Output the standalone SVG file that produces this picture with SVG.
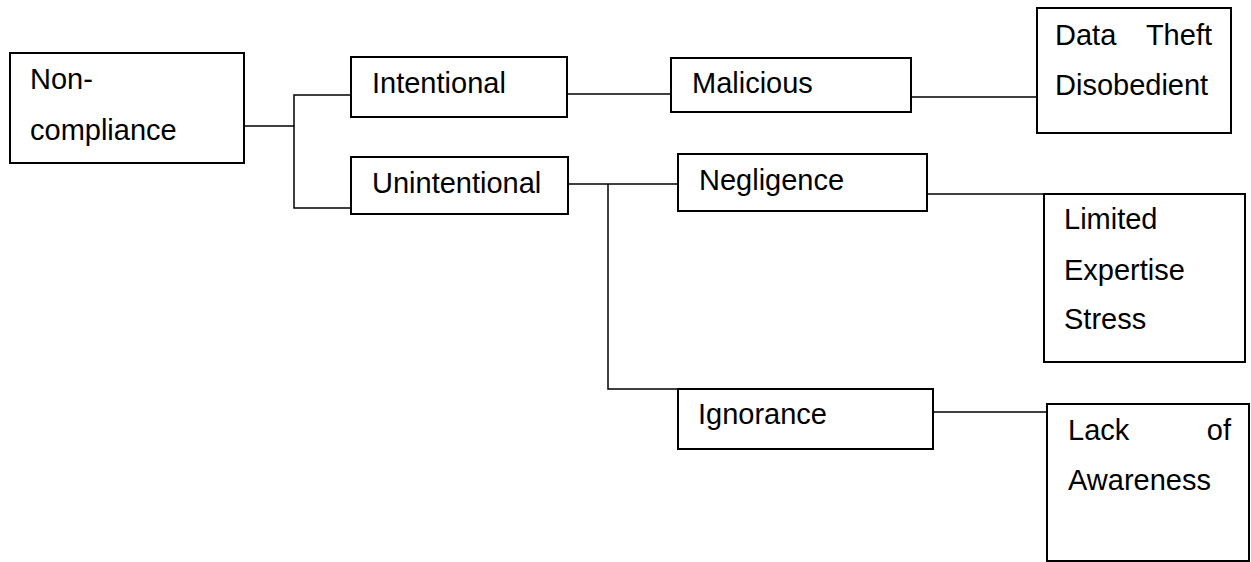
<svg xmlns="http://www.w3.org/2000/svg" width="1251" height="562" viewBox="0 0 1251 562">
  <style>
    .box { fill: #ffffff; stroke: #000000; stroke-width: 2; }
    .wire { fill: none; stroke: #000000; stroke-width: 1.5; }
    .label { font-family: "Liberation Sans", Arial, sans-serif; font-size: 29px; fill: #000000; }
    .end { text-anchor: end; }
  </style>
  <rect width="1251" height="562" fill="#ffffff"/>

  <g id="connectors">
    <polyline class="wire" points="244,126 294,126"/>
    <polyline class="wire" points="351,95 294,95 294,208 351,208"/>
    <polyline class="wire" points="567,94 671,94"/>
    <polyline class="wire" points="911,97 1037,97"/>
    <polyline class="wire" points="568,184 678,184"/>
    <polyline class="wire" points="608,184 608,389 678,389"/>
    <polyline class="wire" points="927,194 1044,194"/>
    <polyline class="wire" points="933,412 1047,412"/>
  </g>

  <g id="non-compliance">
    <rect class="box" x="10" y="53" width="234" height="110"/>
    <text class="label" x="30" y="89">Non-</text>
    <text class="label" x="30" y="140">compliance</text>
  </g>

  <g id="intentional">
    <rect class="box" x="351" y="57" width="216" height="60"/>
    <text class="label" x="372" y="93">Intentional</text>
  </g>

  <g id="unintentional">
    <rect class="box" x="351" y="157" width="217" height="57"/>
    <text class="label" x="372" y="193">Unintentional</text>
  </g>

  <g id="malicious">
    <rect class="box" x="671" y="58" width="240" height="54"/>
    <text class="label" x="692" y="93">Malicious</text>
  </g>

  <g id="data-theft">
    <rect class="box" x="1037" y="8" width="194" height="125"/>
    <text class="label" x="1055" y="45">Data</text>
    <text class="label end" x="1212" y="45">Theft</text>
    <text class="label" x="1055" y="95">Disobedient</text>
  </g>

  <g id="negligence">
    <rect class="box" x="678" y="154" width="249" height="57"/>
    <text class="label" x="699" y="190">Negligence</text>
  </g>

  <g id="limited-expertise">
    <rect class="box" x="1044" y="194" width="201" height="168"/>
    <text class="label" x="1064" y="229">Limited</text>
    <text class="label" x="1064" y="280">Expertise</text>
    <text class="label" x="1064" y="329">Stress</text>
  </g>

  <g id="ignorance">
    <rect class="box" x="678" y="389" width="255" height="60"/>
    <text class="label" x="698" y="424">Ignorance</text>
  </g>

  <g id="lack-of-awareness">
    <rect class="box" x="1047" y="404" width="202" height="157"/>
    <text class="label" x="1068" y="440">Lack</text>
    <text class="label end" x="1231" y="440">of</text>
    <text class="label" x="1068" y="490">Awareness</text>
  </g>
</svg>
